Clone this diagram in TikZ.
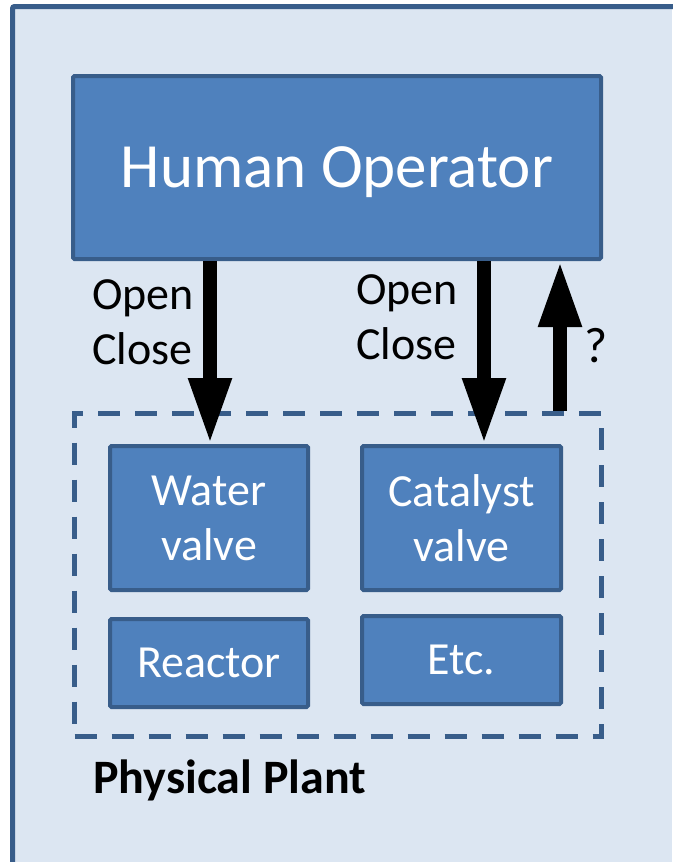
\documentclass[tikz,border=0pt]{standalone}
\usepackage{fontspec}
\setmainfont{Carlito}
\usetikzlibrary{arrows.meta}
\definecolor{bgfill}{HTML}{DCE6F2}
\definecolor{boxfill}{HTML}{4F81BD}
\definecolor{boxline}{HTML}{385D8A}
\tikzset{
  blockbox/.style={draw=boxline, fill=boxfill, line width=4pt, rounded corners=1.5pt,
    text=white, inner sep=0pt, align=center, text depth=0pt, font=\fontsize{46}{55}\selectfont},
  bigarrow/.style={line width=14pt, -{Triangle[width=40pt,length=66pt]}},
  lbl/.style={inner sep=0pt, align=left, font=\fontsize{46}{55}\selectfont}
}
\begin{document}
\begin{tikzpicture}[x=1pt,y=-1pt]
\useasboundingbox (0,0) rectangle (672,862);
\fill[bgfill] (12.5,6.5) rectangle (672,862);
\draw[draw=boxline, line width=5pt, rounded corners=2pt] (12.5,870) -- (12.5,6.5) -- (680,6.5);
% nodes
\node[blockbox, minimum width=528pt, minimum height=183pt, font=\fontsize{63}{70}\selectfont] (ho) at (337,167.5) {Human Operator};
\node[draw=boxline, line width=5pt, dash pattern=on 22pt off 15pt, minimum width=527pt, minimum height=323pt, inner sep=0pt] (plant) at (338,575) {};
\node[blockbox, minimum width=198pt, minimum height=144pt] (wv) at (209,518) {Water\\valve};
\node[blockbox, minimum width=199pt, minimum height=144pt] (cv) at (461.5,518) {Catalyst\\valve};
\node[blockbox, minimum width=198pt, minimum height=88pt] (re) at (209,663) {Reactor};
\node[blockbox, minimum width=199pt, minimum height=88pt] (etc) at (461.5,660) {Etc.};
% labels
\node[lbl] (l1) at (143,322) {Open\\Close};
\node[lbl] (l2) at (407,317.5) {Open\\Close};
\node[inner sep=0pt, anchor=base west, font=\fontsize{50}{56}\selectfont] (q) at (584,362) {?};
\node[inner sep=0pt, anchor=base west, font=\bfseries\fontsize{48}{56}\selectfont] (pp) at (93,793) {Physical Plant};
% arrows
\coordinate (a1) at (210,0);
\coordinate (a2) at (484,0);
\coordinate (a3) at (560,0);
\draw[bigarrow] (ho.south -| a1) -- (wv.north -| a1);
\draw[bigarrow] (ho.south -| a2) -- (cv.north -| a2);
\draw[bigarrow] (plant.north -| a3) -- (ho.south -| a3);
\end{tikzpicture}
\end{document}
